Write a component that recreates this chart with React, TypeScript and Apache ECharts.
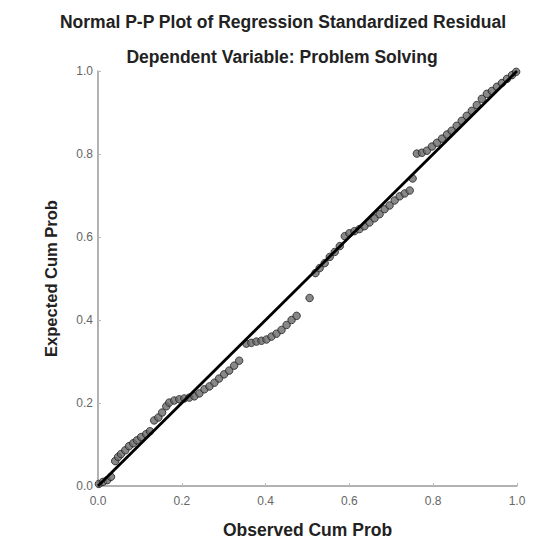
import React, { useEffect, useRef } from "react";
import * as echarts from "echarts";

const titleText = "Normal P-P Plot of Regression Standardized Residual";
const subtitleText = "Dependent Variable: Problem Solving";
const xAxisName = "Observed Cum Prob";
const yAxisName = "Expected Cum Prob";
const tickLabels = ["0.0", "0.2", "0.4", "0.6", "0.8", "1.0"];

const observedCumProb = [
  0.002, 0.012, 0.022, 0.031, 0.041, 0.048, 0.055, 0.065, 0.074, 0.084,
  0.093, 0.103, 0.115, 0.124, 0.134, 0.144, 0.153, 0.163, 0.170, 0.182,
  0.194, 0.206, 0.218, 0.230, 0.242, 0.254, 0.266, 0.278, 0.289, 0.301,
  0.313, 0.325, 0.337, 0.354, 0.366, 0.378, 0.390, 0.402, 0.414, 0.426,
  0.438, 0.450, 0.462, 0.474, 0.505, 0.519, 0.529, 0.541, 0.553, 0.565,
  0.577, 0.589, 0.600, 0.612, 0.624, 0.636, 0.648, 0.660, 0.672, 0.684,
  0.696, 0.708, 0.720, 0.732, 0.744, 0.751, 0.761, 0.773, 0.785, 0.797,
  0.809, 0.821, 0.833, 0.844, 0.856, 0.868, 0.880, 0.892, 0.904, 0.916,
  0.928, 0.940, 0.952, 0.964, 0.976, 0.988, 0.998,
];

const expectedCumProb = [
  0.005, 0.010, 0.014, 0.022, 0.060, 0.070, 0.077, 0.086, 0.096, 0.103,
  0.110, 0.118, 0.125, 0.132, 0.158, 0.165, 0.177, 0.192, 0.201, 0.206,
  0.209, 0.211, 0.213, 0.216, 0.223, 0.233, 0.240, 0.249, 0.259, 0.269,
  0.278, 0.290, 0.302, 0.343, 0.345, 0.348, 0.350, 0.353, 0.360, 0.367,
  0.376, 0.388, 0.400, 0.410, 0.453, 0.513, 0.525, 0.537, 0.552, 0.564,
  0.578, 0.602, 0.609, 0.614, 0.619, 0.626, 0.635, 0.645, 0.655, 0.667,
  0.676, 0.688, 0.698, 0.705, 0.712, 0.741, 0.801, 0.803, 0.808, 0.818,
  0.827, 0.837, 0.847, 0.856, 0.868, 0.880, 0.892, 0.904, 0.918, 0.933,
  0.945, 0.952, 0.962, 0.971, 0.981, 0.990, 0.998,
];

const refLine = [
  [0, 0],
  [1, 1],
];

export default function App() {
  const ref = useRef<HTMLDivElement>(null);
  useEffect(() => {
    if (!ref.current) return;
    const chart = echarts.init(ref.current, null, { renderer: "svg" });
    const font = "'Liberation Sans', Arial, sans-serif";
    const points = observedCumProb.map((x, i) => [x, expectedCumProb[i]]);
    chart.setOption({
      animation: false,
      backgroundColor: "#ffffff",
      title: [
        {
          text: titleText,
          left: 270,
          textAlign: "center",
          top: 0,
          textStyle: { fontFamily: font, fontSize: 17.5, fontWeight: "bold", color: "#222" },
        },
        {
          text: subtitleText,
          left: 269,
          textAlign: "center",
          top: 35,
          textStyle: { fontFamily: font, fontSize: 17.5, fontWeight: "bold", color: "#222" },
        },
      ],
      grid: { left: 90, right: 16, top: 63, bottom: 60, containLabel: false },
      xAxis: {
        type: "value",
        min: 0,
        max: 1,
        interval: 0.2,
        name: xAxisName,
        nameLocation: "middle",
        nameGap: 35,
        nameTextStyle: { fontFamily: font, fontSize: 17.5, fontWeight: "bold", color: "#222" },
        axisLine: { show: true, lineStyle: { color: "#999", width: 1.5 } },
        axisTick: { show: true, inside: true, length: 3, lineStyle: { color: "#bbb" } },
        axisLabel: {
          fontFamily: font,
          fontSize: 12,
          color: "#666",
          margin: 9,
          formatter: (v: number) => tickLabels[Math.round(v * 5)],
        },
        splitLine: { show: false },
      },
      yAxis: {
        type: "value",
        min: 0,
        max: 1,
        interval: 0.2,
        name: yAxisName,
        nameLocation: "middle",
        nameGap: 39,
        nameRotate: 90,
        nameTextStyle: { fontFamily: font, fontSize: 16.5, fontWeight: "bold", color: "#222" },
        axisLine: { show: true, lineStyle: { color: "#999", width: 1.5 } },
        axisTick: { show: true, inside: true, length: 3, lineStyle: { color: "#bbb" } },
        axisLabel: {
          fontFamily: font,
          fontSize: 12,
          color: "#666",
          margin: 5,
          formatter: (v: number) => tickLabels[Math.round(v * 5)],
        },
        splitLine: { show: false },
      },
      series: [
        {
          type: "scatter",
          data: points,
          symbol: "circle",
          symbolSize: 7.5,
          itemStyle: { color: "#6a6a6a", borderColor: "#222", borderWidth: 1 },
          z: 2,
        },
        {
          type: "line",
          data: refLine,
          symbol: "none",
          lineStyle: { color: "#000", width: 2.8 },
          z: 3,
        },
      ],
    });
    return () => chart.dispose();
  }, []);
  return <div ref={ref} style={{ width: 525, height: 538 }} />;
}
